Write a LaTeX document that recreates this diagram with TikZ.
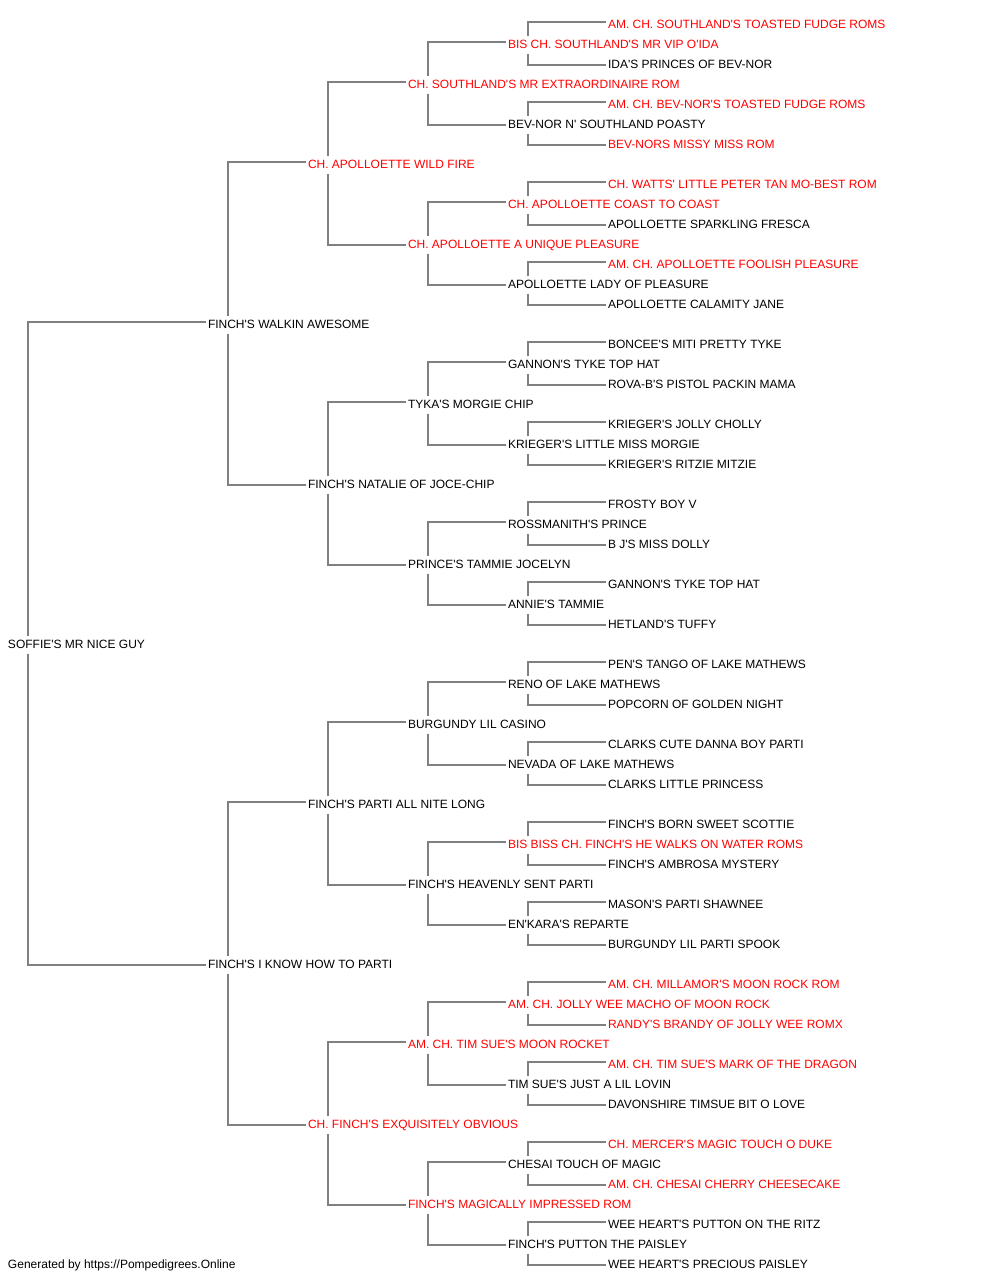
\documentclass[tikz,border=0pt]{standalone}
\usepackage{fontspec}
\setmainfont{Liberation Sans}[Ligatures=TeXOff]
\definecolor{linegray}{RGB}{128,128,128}
\definecolor{champ}{RGB}{255,0,0}
\tikzset{
  lbl/.style={anchor=west, inner xsep=2pt, inner ysep=0pt, outer sep=0pt, yshift=-0.7pt,
    text height=8.6pt, text depth=0pt, font=\fontsize{12}{14}\selectfont, text=black},
  red/.style={lbl, text=champ},
  conn/.style={draw=linegray, line width=1.1pt}
}
\begin{document}
\begin{tikzpicture}[x=1pt, y=-1pt]
\useasboundingbox (0,0) rectangle (1000,1280);
% generation 0
\node[lbl] (r31) at (6,643) {SOFFIE'S MR NICE GUY};
% generation 1
\node[lbl] (r15) at (206,323) {FINCH'S WALKIN AWESOME};
\node[lbl] (r47) at (206,963) {FINCH'S I KNOW HOW TO PARTI};
% generation 2
\node[red] (r7) at (306,163) {CH. APOLLOETTE WILD FIRE};
\node[lbl] (r23) at (306,483) {FINCH'S NATALIE OF JOCE-CHIP};
\node[lbl] (r39) at (306,803) {FINCH'S PARTI ALL NITE LONG};
\node[red] (r55) at (306,1123) {CH. FINCH'S EXQUISITELY OBVIOUS};
% generation 3
\node[red] (r3) at (406,83) {CH. SOUTHLAND'S MR EXTRAORDINAIRE ROM};
\node[red] (r11) at (406,243) {CH. APOLLOETTE A UNIQUE PLEASURE};
\node[lbl] (r19) at (406,403) {TYKA'S MORGIE CHIP};
\node[lbl] (r27) at (406,563) {PRINCE'S TAMMIE JOCELYN};
\node[lbl] (r35) at (406,723) {BURGUNDY LIL CASINO};
\node[lbl] (r43) at (406,883) {FINCH'S HEAVENLY SENT PARTI};
\node[red] (r51) at (406,1043) {AM. CH. TIM SUE'S MOON ROCKET};
\node[red] (r59) at (406,1203) {FINCH'S MAGICALLY IMPRESSED ROM};
% generation 4
\node[red] (r1) at (506,43) {BIS CH. SOUTHLAND'S MR VIP O'IDA};
\node[lbl] (r5) at (506,123) {BEV-NOR N' SOUTHLAND POASTY};
\node[red] (r9) at (506,203) {CH. APOLLOETTE COAST TO COAST};
\node[lbl] (r13) at (506,283) {APOLLOETTE LADY OF PLEASURE};
\node[lbl] (r17) at (506,363) {GANNON'S TYKE TOP HAT};
\node[lbl] (r21) at (506,443) {KRIEGER'S LITTLE MISS MORGIE};
\node[lbl] (r25) at (506,523) {ROSSMANITH'S PRINCE};
\node[lbl] (r29) at (506,603) {ANNIE'S TAMMIE};
\node[lbl] (r33) at (506,683) {RENO OF LAKE MATHEWS};
\node[lbl] (r37) at (506,763) {NEVADA OF LAKE MATHEWS};
\node[red] (r41) at (506,843) {BIS BISS CH. FINCH'S HE WALKS ON WATER ROMS};
\node[lbl] (r45) at (506,923) {EN'KARA'S REPARTE};
\node[red] (r49) at (506,1003) {AM. CH. JOLLY WEE MACHO OF MOON ROCK};
\node[lbl] (r53) at (506,1083) {TIM SUE'S JUST A LIL LOVIN};
\node[lbl] (r57) at (506,1163) {CHESAI TOUCH OF MAGIC};
\node[lbl] (r61) at (506,1243) {FINCH'S PUTTON THE PAISLEY};
% generation 5
\node[red] (r0) at (606,23) {AM. CH. SOUTHLAND'S TOASTED FUDGE ROMS};
\node[lbl] (r2) at (606,63) {IDA'S PRINCES OF BEV-NOR};
\node[red] (r4) at (606,103) {AM. CH. BEV-NOR'S TOASTED FUDGE ROMS};
\node[red] (r6) at (606,143) {BEV-NORS MISSY MISS ROM};
\node[red] (r8) at (606,183) {CH. WATTS' LITTLE PETER TAN MO-BEST ROM};
\node[lbl] (r10) at (606,223) {APOLLOETTE SPARKLING FRESCA};
\node[red] (r12) at (606,263) {AM. CH. APOLLOETTE FOOLISH PLEASURE};
\node[lbl] (r14) at (606,303) {APOLLOETTE CALAMITY JANE};
\node[lbl] (r16) at (606,343) {BONCEE'S MITI PRETTY TYKE};
\node[lbl] (r18) at (606,383) {ROVA-B'S PISTOL PACKIN MAMA};
\node[lbl] (r20) at (606,423) {KRIEGER'S JOLLY CHOLLY};
\node[lbl] (r22) at (606,463) {KRIEGER'S RITZIE MITZIE};
\node[lbl] (r24) at (606,503) {FROSTY BOY V};
\node[lbl] (r26) at (606,543) {B J'S MISS DOLLY};
\node[lbl] (r28) at (606,583) {GANNON'S TYKE TOP HAT};
\node[lbl] (r30) at (606,623) {HETLAND'S TUFFY};
\node[lbl] (r32) at (606,663) {PEN'S TANGO OF LAKE MATHEWS};
\node[lbl] (r34) at (606,703) {POPCORN OF GOLDEN NIGHT};
\node[lbl] (r36) at (606,743) {CLARKS CUTE DANNA BOY PARTI};
\node[lbl] (r38) at (606,783) {CLARKS LITTLE PRINCESS};
\node[lbl] (r40) at (606,823) {FINCH'S BORN SWEET SCOTTIE};
\node[lbl] (r42) at (606,863) {FINCH'S AMBROSA MYSTERY};
\node[lbl] (r44) at (606,903) {MASON'S PARTI SHAWNEE};
\node[lbl] (r46) at (606,943) {BURGUNDY LIL PARTI SPOOK};
\node[red] (r48) at (606,983) {AM. CH. MILLAMOR'S MOON ROCK ROM};
\node[red] (r50) at (606,1023) {RANDY'S BRANDY OF JOLLY WEE ROMX};
\node[red] (r52) at (606,1063) {AM. CH. TIM SUE'S MARK OF THE DRAGON};
\node[lbl] (r54) at (606,1103) {DAVONSHIRE TIMSUE BIT O LOVE};
\node[red] (r56) at (606,1143) {CH. MERCER'S MAGIC TOUCH O DUKE};
\node[red] (r58) at (606,1183) {AM. CH. CHESAI CHERRY CHEESECAKE};
\node[lbl] (r60) at (606,1223) {WEE HEART'S PUTTON ON THE RITZ};
\node[lbl] (r62) at (606,1263) {WEE HEART'S PRECIOUS PAISLEY};
% footer
\node[lbl] (footer) at (6,1263) {Generated by https://Pompedigrees.Online};
% connectors: parent / sire / dam
\foreach \p/\s/\d in {31/15/47, 15/7/23, 47/39/55,
  7/3/11, 23/19/27, 39/35/43, 55/51/59,
  3/1/5, 11/9/13, 19/17/21, 27/25/29, 35/33/37, 43/41/45, 51/49/53, 59/57/61,
  1/0/2, 5/4/6, 9/8/10, 13/12/14, 17/16/18, 21/20/22, 25/24/26, 29/28/30,
  33/32/34, 37/36/38, 41/40/42, 45/44/46, 49/48/50, 53/52/54, 57/56/58, 61/60/62} {
  \draw[conn] ([xshift=22pt,yshift=7.7pt]r\p.west) |- ([yshift=1.7pt]r\s.west);
  \draw[conn] ([xshift=22pt,yshift=-10.3pt]r\p.west) |- ([yshift=-1.3pt]r\d.west);
}
\end{tikzpicture}
\end{document}
